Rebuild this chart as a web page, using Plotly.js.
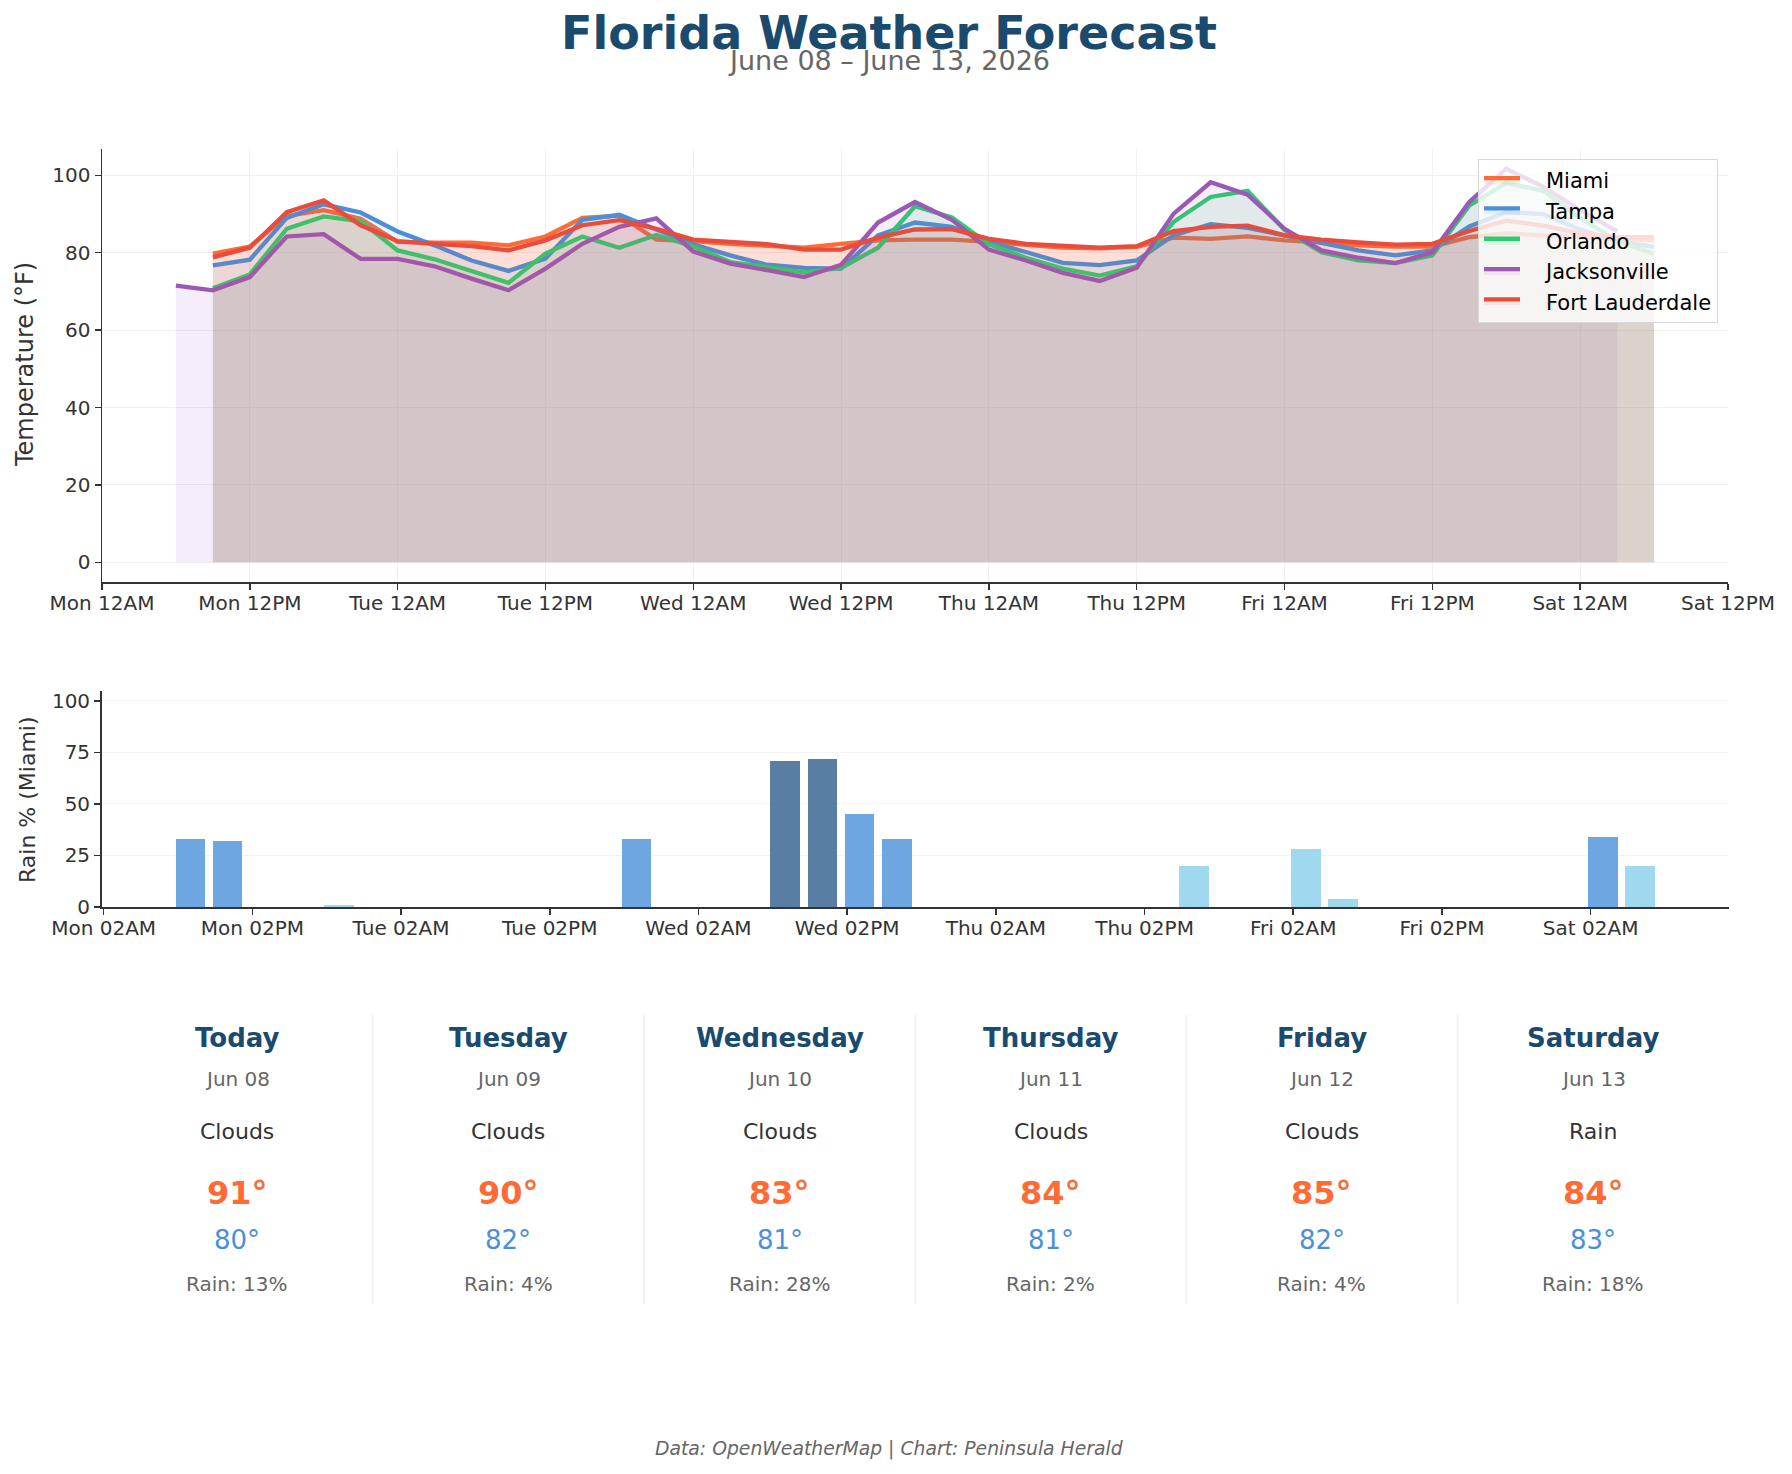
<!DOCTYPE html>
<html>
<head>
<meta charset="utf-8">
<script src="https://cdn.plot.ly/plotly-3.0.1.min.js"></script>
<style>html,body{margin:0;padding:0;background:#fff;}#chart{width:1792px;height:1474px;}</style>
</head>
<body>
<div id="chart"></div>
<script>
// ---------------- DATA ----------------
const cities = ['Miami', 'Tampa', 'Orlando', 'Jacksonville', 'Fort Lauderdale'];
const cityColors = ['#FF6B35', '#4A90D9', '#2ECC71', '#9B59B6', '#E74C3C'];

// 3-hourly forecast, Mon 09:00 -> Sat 06:00 (Jacksonville: Mon 06:00 -> Sat 03:00)
const tempMiami = [79.8, 81.6, 89.5, 91.0, 88.8,
  82.8, 82.6, 82.6, 81.9, 84.2, 89.0, 89.6, 83.4,
  83.0, 82.3, 81.7, 81.3, 82.3, 83.2, 83.4, 83.4,
  82.8, 82.0, 81.3, 81.1, 81.5, 83.9, 83.6, 84.2,
  83.2, 82.7, 81.9, 81.6, 81.6, 84.0, 85.0, 84.5,
  84.0, 83.5, 83.2];
const tempTampa = [76.7, 78.2, 89.0, 92.5, 90.4,
  85.5, 81.9, 78.0, 75.3, 78.5, 88.5, 89.8, 86.0,
  82.2, 79.3, 76.9, 76.1, 75.9, 84.5, 87.8, 86.7,
  82.8, 80.2, 77.4, 76.8, 78.0, 84.5, 87.4, 86.4,
  84.5, 82.5, 80.6, 79.3, 80.6, 86.8, 90.5, 90.0,
  86.0, 83.0, 81.5];
const tempOrlando = [70.8, 74.4, 86.2, 89.4, 88.1,
  80.6, 78.3, 75.2, 72.2, 79.8, 84.2, 81.3, 84.6,
  81.6, 77.6, 76.3, 74.9, 76.1, 81.3, 92.0, 89.1,
  82.2, 78.7, 75.9, 74.1, 76.5, 88.0, 94.4, 96.0,
  85.9, 80.1, 78.0, 77.3, 79.3, 92.2, 98.0, 96.0,
  89.0, 83.0, 79.7];
const tempJacksonville = [71.5, 70.3, 73.7, 84.2, 84.8, 78.4,
  78.4, 76.5, 73.3, 70.3, 75.9, 82.3, 86.7, 88.9,
  80.3, 77.2, 75.5, 73.7, 76.9, 87.8, 93.1, 88.5,
  80.8, 78.0, 74.8, 72.7, 76.1, 90.1, 98.2, 95.0,
  86.2, 80.6, 78.7, 77.3, 80.1, 93.1, 101.7, 97.0,
  91.0, 85.5];
const tempFortLauderdale = [78.8, 81.3, 90.5, 93.5, 87.1,
  83.0, 82.3, 81.7, 80.6, 83.2, 87.1, 88.4, 86.2,
  83.4, 82.8, 82.2, 80.8, 80.8, 83.9, 86.0, 86.1,
  83.6, 82.3, 81.7, 81.3, 81.7, 85.6, 86.7, 87.0,
  84.5, 83.4, 82.7, 82.1, 82.3, 85.6, 88.3, 87.0,
  85.0, 84.0, 84.0];
const cityTemps = [tempMiami, tempTampa, tempOrlando, tempJacksonville, tempFortLauderdale];
const cityStartHour = [9, 9, 9, 6, 9]; // hour on Mon Jun 08 of first reading

// Miami rain probability (%), Mon 09:00 -> Sat 06:00
const rainMiami = [33, 32, 0, 0, 1,
  0, 0, 0, 0, 0, 0, 0, 33,
  0, 0, 0, 71, 72, 45, 33, 0,
  0, 0, 0, 0, 0, 0, 20, 0,
  0, 28, 4, 0, 0, 0, 0, 0,
  0, 34, 20];

const tempTickLabels = ['Mon 12AM', 'Mon 12PM', 'Tue 12AM', 'Tue 12PM', 'Wed 12AM', 'Wed 12PM',
  'Thu 12AM', 'Thu 12PM', 'Fri 12AM', 'Fri 12PM', 'Sat 12AM', 'Sat 12PM'];
const rainTickLabels = ['Mon 02AM', 'Mon 02PM', 'Tue 02AM', 'Tue 02PM', 'Wed 02AM', 'Wed 02PM',
  'Thu 02AM', 'Thu 02PM', 'Fri 02AM', 'Fri 02PM', 'Sat 02AM'];

const dayNames = ['Today', 'Tuesday', 'Wednesday', 'Thursday', 'Friday', 'Saturday'];
const dayDates = ['Jun 08', 'Jun 09', 'Jun 10', 'Jun 11', 'Jun 12', 'Jun 13'];
const dayConditions = ['Clouds', 'Clouds', 'Clouds', 'Clouds', 'Clouds', 'Rain'];
const dayHighs = [91, 90, 83, 84, 85, 84];
const dayLows = [80, 82, 81, 81, 82, 83];
const dayRain = [13, 4, 28, 2, 4, 18];

// ---------------- HELPERS ----------------
const HOUR = 3600 * 1000;
const BASE = Date.UTC(2026, 5, 8, 0, 0);
function stamp(ms) {
  const d = new Date(ms);
  const p = n => String(n).padStart(2, '0');
  return d.getUTCFullYear() + '-' + p(d.getUTCMonth() + 1) + '-' + p(d.getUTCDate()) + ' ' +
    p(d.getUTCHours()) + ':' + p(d.getUTCMinutes());
}
function series(startHour, n) {
  const out = [];
  for (let i = 0; i < n; i++) out.push(stamp(BASE + (startHour + 3 * i) * HOUR));
  return out;
}
function rainColor(v) {
  if (v > 60) return '#587ea3';
  if (v >= 30) return '#6ea6e1';
  return '#9fd8ef';
}
function rgba(hex, a) {
  const n = parseInt(hex.slice(1), 16);
  return 'rgba(' + (n >> 16) + ',' + ((n >> 8) & 255) + ',' + (n & 255) + ',' + a + ')';
}

const W = 1792, H = 1474;
const px = x => x / W;
const py = y => 1 - y / H;
const FONT = 'DejaVu Sans';
const TXT = '#333333';
const CX = px(889);

// ---------------- TRACES ----------------
const traces = [];
cities.forEach((c, i) => {
  traces.push({
    type: 'scatter', mode: 'lines', name: '\u2003' + c,
    x: series(cityStartHour[i], cityTemps[i].length),
    y: cityTemps[i],
    line: {color: cityColors[i], width: 4.3},
    fill: 'tozeroy', fillcolor: rgba(cityColors[i], 0.1),
    xaxis: 'x', yaxis: 'y', legendgroup: 'g' + i,
    hoverinfo: 'skip'
  });
});
traces.push({
  type: 'bar', x: series(9, rainMiami.length), y: rainMiami,
  width: 0.1 * 24 * HOUR,
  marker: {color: rainMiami.map(rainColor), line: {width: 0}},
  xaxis: 'x2', yaxis: 'y2', showlegend: false, hoverinfo: 'skip'
});

// ---------------- LAYOUT ----------------
const tempTickVals = tempTickLabels.map((_, i) => stamp(BASE + 12 * i * HOUR));
const rainTickVals = rainTickLabels.map((_, i) => stamp(BASE + (2 + 12 * i) * HOUR));

const axisCommon = {
  showline: true, linecolor: TXT, linewidth: 1.5, mirror: false,
  ticks: 'outside', ticklen: 6, tickwidth: 1.5, tickcolor: TXT,
  tickfont: {family: FONT, size: 20, color: TXT},
  zeroline: false
};

const annotations = [];
annotations.push({text: '<b>Florida Weather Forecast</b>', x: CX, y: py(33), xref: 'paper', yref: 'paper',
  xanchor: 'center', yanchor: 'middle', showarrow: false, font: {family: FONT, size: 46, color: '#1a4a6e'}});
annotations.push({text: 'June 08 \u2013 June 13, 2026', x: CX, y: py(60), xref: 'paper', yref: 'paper',
  xanchor: 'center', yanchor: 'middle', showarrow: false, font: {family: FONT, size: 27, color: '#666666'}});
annotations.push({text: 'Temperature (°F)', x: px(25), y: py(365), xref: 'paper', yref: 'paper', textangle: -90,
  xanchor: 'center', yanchor: 'middle', showarrow: false, font: {family: FONT, size: 24, color: TXT}});
annotations.push({text: 'Rain % (Miami)', x: px(27), y: py(800), xref: 'paper', yref: 'paper', textangle: -90,
  xanchor: 'center', yanchor: 'middle', showarrow: false, font: {family: FONT, size: 22, color: TXT}});
annotations.push({text: '<i>Data: OpenWeatherMap | Chart: Peninsula Herald</i>', x: CX, y: py(1449), xref: 'paper', yref: 'paper',
  xanchor: 'center', yanchor: 'middle', showarrow: false, font: {family: FONT, size: 18.8, color: '#666666'}});

const cardLeft = 101.6, cardW = 271.2;
const shapes = [];
dayNames.forEach((d, i) => {
  const cx = px(cardLeft + cardW * (i + 0.5));
  const rows = [
    ['<b>' + d + '</b>', 1038, 26, '#1a4a6e'],
    [dayDates[i], 1079, 20, '#666666'],
    [dayConditions[i], 1131, 22, TXT],
    ['<b>' + dayHighs[i] + '°</b>', 1193, 32, '#FF6B35'],
    [dayLows[i] + '°', 1240, 26, '#4A90D9'],
    ['Rain: ' + dayRain[i] + '%', 1284, 20, '#666666']
  ];
  rows.forEach(r => annotations.push({text: r[0], x: cx, y: py(r[1]), xref: 'paper', yref: 'paper',
    xanchor: 'center', yanchor: 'middle', showarrow: false, font: {family: FONT, size: r[2], color: r[3]}}));
  if (i > 0) {
    const sx = px(cardLeft + cardW * i);
    shapes.push({type: 'line', xref: 'paper', yref: 'paper', x0: sx, x1: sx, y0: py(1015), y1: py(1304),
      line: {color: '#eeeeee', width: 1.5}});
  }
});

const layout = {
  width: W, height: H,
  margin: {l: 0, r: 0, t: 0, b: 0},
  paper_bgcolor: '#ffffff', plot_bgcolor: '#ffffff',
  font: {family: FONT, color: TXT},
  showlegend: true,
  legend: {
    x: px(1718), y: py(159), xanchor: 'right', yanchor: 'top',
    bgcolor: 'rgba(255,255,255,0.8)', bordercolor: '#d8d8d8', borderwidth: 1,
    font: {family: FONT, size: 21, color: '#000000'},
    traceorder: 'grouped', tracegroupgap: 0, itemwidth: 36
  },
  xaxis: Object.assign({}, axisCommon, {
    type: 'date', domain: [px(102), px(1728)], anchor: 'y',
    range: [stamp(BASE), stamp(BASE + 132 * HOUR)],
    tickmode: 'array', tickvals: tempTickVals, ticktext: tempTickLabels,
    ticklabelstandoff: -4,
    showgrid: true, gridcolor: '#f0f0f0', gridwidth: 1
  }),
  yaxis: Object.assign({}, axisCommon, {
    domain: [py(582), py(149)], anchor: 'x',
    range: [-5.08, 106.8], tickmode: 'array', tickvals: [0, 20, 40, 60, 80, 100],
    showgrid: true, gridcolor: '#f0f0f0', gridwidth: 1
  }),
  xaxis2: Object.assign({}, axisCommon, {
    type: 'date', domain: [px(101.6), px(1729)], anchor: 'y2',
    range: [stamp(BASE + (1 + 50 / 60) * HOUR), stamp(BASE + (120 + 13 + 10 / 60) * HOUR)],
    tickmode: 'array', tickvals: rainTickVals, ticktext: rainTickLabels,
    ticklabelstandoff: -4,
    showgrid: false
  }),
  yaxis2: Object.assign({}, axisCommon, {
    domain: [py(907), py(690.5)], anchor: 'x2',
    range: [0, 105], tickmode: 'array', tickvals: [0, 25, 50, 75, 100],
    showgrid: true, gridcolor: '#f3f3f3', gridwidth: 1
  }),
  bargap: 0,
  annotations: annotations,
  shapes: shapes
};

Plotly.newPlot('chart', traces, layout, {displayModeBar: false, staticPlot: true});
</script>
</body>
</html>
